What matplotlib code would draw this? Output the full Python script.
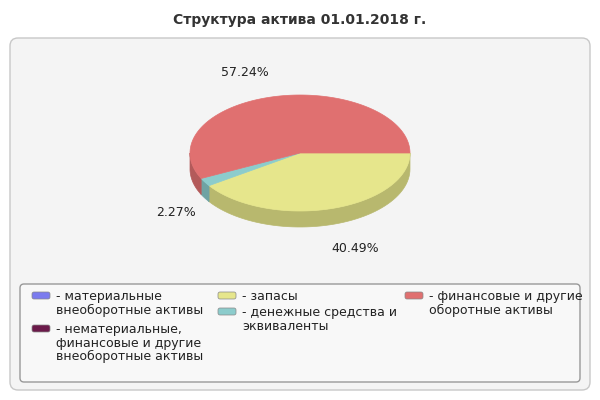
import numpy as np
import matplotlib.pyplot as plt
from matplotlib.patches import Polygon, FancyBboxPatch

title = "Структура актива 01.01.2018 г."
labels = ["- материальные\nвнеоборотные активы",
          "- нематериальные,\nфинансовые и другие\nвнеоборотные активы",
          "- запасы",
          "- денежные средства и\nэквиваленты",
          "- финансовые и другие\nоборотные активы"]
values = [0.0, 0.0, 40.49, 2.27, 57.24]
top_colors = ["#7b7bee", "#6b1a4a", "#e6e68c", "#8ccccc", "#e07070"]
side_colors = ["#5a5ab0", "#4a1035", "#b8b86e", "#6fa3a3", "#b35a5a"]
pct_pos = {2: (355, 249), 3: (176, 213), 4: (245, 72)}

fig = plt.figure(figsize=(6, 4), dpi=100)
ax = fig.add_axes([0, 0, 1, 1])
ax.set_xlim(0, 600)
ax.set_ylim(400, 0)
ax.axis("off")

ax.text(300, 20, title, ha="center", va="center", fontsize=10, fontweight="bold", color="#333333")
ax.add_patch(FancyBboxPatch((10, 38), 580, 352, boxstyle="round,pad=0,rounding_size=8",
                            fc="#f4f4f4", ec="#c8c8c8", lw=1))
ax.add_patch(FancyBboxPatch((20, 284), 560, 98, boxstyle="round,pad=0,rounding_size=4",
                            fc="#f8f8f8", ec="#999999", lw=1))

cx, cy, rx, ry, depth = 300, 153, 110, 58, 16


def pt(a):
    return cx + rx * np.cos(a), cy - ry * np.sin(a)


# slices go clockwise from 3 o'clock
total = sum(values)
start = 0.0
slices = []
for i, v in enumerate(values):
    if v <= 0:
        continue
    span = 2 * np.pi * v / total
    slices.append((i, start - span, start))
    start -= span

# side walls (front half only: sin(a) < 0)
for i, a0, a1 in slices:
    lo, hi = a0, a1
    # front half in [-pi, 0] and shifted copies
    for off in (0, -2 * np.pi):
        s, e = max(lo, -np.pi + off), min(hi, 0 + off)
        if e > s:
            t = np.linspace(s, e, 60)
            xs, ys = pt(t)
            poly = np.vstack([np.column_stack([xs, ys]),
                              np.column_stack([xs[::-1], ys[::-1] + depth])])
            ax.add_patch(Polygon(poly, fc=side_colors[i], ec=side_colors[i], lw=0.5))

# inner cut face visible for teal/yellow edge near left
for i, a0, a1 in slices:
    t = np.linspace(a0, a1, 120)
    xs, ys = pt(t)
    poly = np.vstack([[cx, cy], np.column_stack([xs, ys])])
    ax.add_patch(Polygon(poly, fc=top_colors[i], ec=top_colors[i], lw=0.5))

for i, (x, y) in pct_pos.items():
    ax.text(x, y, f"{values[i]:.2f}%", ha="center", va="center", fontsize=9, color="#222222")

leg_pos = [(32, 292), (32, 325), (218, 292), (218, 308), (405, 292)]
for i, (x, y) in enumerate(leg_pos):
    ax.add_patch(FancyBboxPatch((x, y), 18, 7, boxstyle="round,pad=0,rounding_size=2",
                                fc=top_colors[i], ec="#888888", lw=0.5))
    ax.text(x + 24, y - 2, labels[i], ha="left", va="top", fontsize=9, color="#222222",
            linespacing=1.05)

fig.savefig("out.png")
